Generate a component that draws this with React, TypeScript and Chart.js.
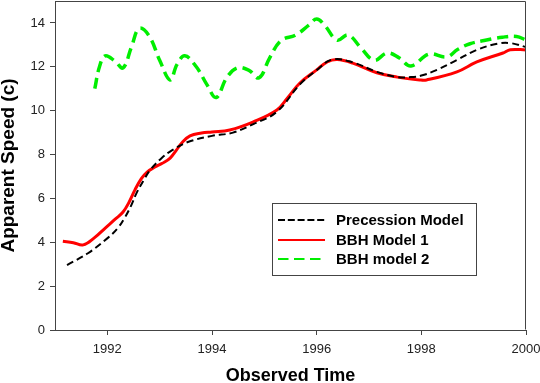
import React, { useEffect, useRef } from "react";
import { Chart, registerables } from "chart.js";

Chart.register(...registerables);

// ---- Data ----
const precessionYears = [1991.23, 1991.63, 1992.01, 1992.2, 1992.34, 1992.45, 1992.56, 1992.7, 1992.82, 1993.04, 1993.24, 1993.54, 1994.0, 1994.4, 1994.8, 1995.24, 1995.68, 1996.0, 1996.3, 1996.69, 1997.15, 1997.54, 1997.8, 1998.0, 1998.3, 1998.68, 1999.06, 1999.45, 1999.7, 2000.0];
const precessionSpeed = [2.96, 3.5, 4.2, 4.65, 5.15, 5.65, 6.25, 6.85, 7.3, 7.84, 8.2, 8.57, 8.85, 9.0, 9.4, 9.95, 11.2, 11.85, 12.33, 12.2, 11.77, 11.53, 11.53, 11.6, 11.86, 12.31, 12.77, 13.05, 13.08, 12.9];

const bbh1Years = [1991.15, 1991.35, 1991.54, 1991.75, 1991.96, 1992.15, 1992.3, 1992.42, 1992.53, 1992.65, 1992.76, 1992.91, 1993.05, 1993.2, 1993.32, 1993.43, 1993.58, 1993.8, 1994.0, 1994.34, 1994.78, 1995.24, 1995.45, 1995.68, 1996.0, 1996.2, 1996.39, 1996.69, 1997.15, 1997.54, 1997.97, 1998.1, 1998.68, 1999.06, 1999.56, 1999.7, 2000.0];
const bbh1Speed = [4.05, 3.98, 3.88, 4.2, 4.65, 5.05, 5.38, 5.85, 6.4, 6.9, 7.2, 7.43, 7.6, 7.84, 8.2, 8.55, 8.85, 8.98, 9.03, 9.12, 9.48, 10.03, 10.6, 11.26, 11.86, 12.22, 12.33, 12.17, 11.73, 11.53, 11.4, 11.4, 11.77, 12.22, 12.63, 12.78, 12.77];

const bbh2Years = [1991.76, 1991.85, 1991.96, 1992.15, 1992.3, 1992.46, 1992.61, 1992.8, 1993.0, 1993.2, 1993.33, 1993.48, 1993.7, 1993.9, 1994.08, 1994.28, 1994.48, 1994.7, 1994.9, 1995.1, 1995.32, 1995.6, 1995.85, 1996.0, 1996.15, 1996.39, 1996.6, 1996.85, 1997.1, 1997.35, 1997.58, 1997.8, 1998.15, 1998.48, 1998.7, 1998.93, 1999.2, 1999.55, 1999.82, 2000.0];
const bbh2Speed = [11.0, 12.0, 12.5, 12.25, 11.95, 12.9, 13.75, 13.4, 12.3, 11.4, 12.1, 12.5, 12.0, 11.2, 10.6, 11.5, 11.95, 11.85, 11.5, 12.4, 13.2, 13.45, 13.9, 14.18, 13.9, 13.22, 13.45, 12.85, 12.3, 12.63, 12.4, 12.04, 12.58, 12.45, 12.8, 13.05, 13.2, 13.35, 13.38, 13.22];

const seriesLabels = ["Precession Model", "BBH Model 1", "BBH model 2"];
const xTickValues = [1992, 1994, 1996, 1998, 2000];
const yTickValues = [0, 2, 4, 6, 8, 10, 12, 14];

const toPoints = (xs: number[], ys: number[]) => xs.map((x, i) => ({ x, y: ys[i] }));

const FONT = "'Liberation Sans', Arial, Helvetica, sans-serif";

const framePlugin = {
  id: "frame",
  afterDraw(chart: any) {
    const { ctx, chartArea } = chart;
    const l = Math.round(chartArea.left) + 0.5;
    const t = Math.round(chartArea.top) + 0.5;
    const r = Math.round(chartArea.right) - 0.5;
    const b = Math.round(chartArea.bottom) - 0.5;
    ctx.save();
    ctx.strokeStyle = "#444";
    ctx.lineWidth = 1;
    ctx.beginPath();
    ctx.moveTo(l, t);
    ctx.lineTo(r, t);
    ctx.lineTo(r, b);
    ctx.stroke();
    ctx.restore();
  },
};

const legendDashes = [[7, 2.8], [], [10.5, 5.5]];

const boxLegendPlugin = {
  id: "boxLegend",
  afterDraw(chart: any) {
    const { ctx } = chart;
    const bx = 272.5, by = 203.5, bw = 204, bh = 72;
    ctx.save();
    ctx.fillStyle = "#fff";
    ctx.fillRect(bx, by, bw, bh);
    ctx.strokeStyle = "#444";
    ctx.lineWidth = 1;
    ctx.strokeRect(bx, by, bw, bh);
    const rows = [220, 240, 259];
    const sampleEnds = [325, 325, 321];
    chart.data.datasets.forEach((ds: any, i: number) => {
      const y = rows[i];
      ctx.strokeStyle = ds.borderColor;
      ctx.lineWidth = 2;
      ctx.setLineDash(legendDashes[i]);
      ctx.beginPath();
      ctx.moveTo(278, y);
      ctx.lineTo(sampleEnds[i], y);
      ctx.stroke();
      ctx.setLineDash([]);
      ctx.fillStyle = "#000";
      ctx.font = `bold 15px ${FONT}`;
      ctx.textBaseline = "middle";
      ctx.textAlign = "left";
      ctx.fillText(ds.label, 336, y + 0.5);
    });
    ctx.restore();
  },
};

export default function App() {
  const canvasRef = useRef<HTMLCanvasElement | null>(null);

  useEffect(() => {
    if (!canvasRef.current) return;
    const chart = new Chart(canvasRef.current, {
      type: "line",
      data: {
        datasets: [
          {
            label: seriesLabels[0],
            data: toPoints(precessionYears, precessionSpeed),
            borderColor: "#000000",
            borderWidth: 2,
            borderDash: [7, 4],
            pointRadius: 0,
            tension: 0.4,
            fill: false,
          },
          {
            label: seriesLabels[1],
            data: toPoints(bbh1Years, bbh1Speed),
            borderColor: "#ff0000",
            borderWidth: 3,
            pointRadius: 0,
            tension: 0.4,
            fill: false,
          },
          {
            label: seriesLabels[2],
            data: toPoints(bbh2Years, bbh2Speed),
            borderColor: "#00ee00",
            borderWidth: 3.5,
            borderDash: [11, 6],
            pointRadius: 0,
            tension: 0.4,
            fill: false,
          },
        ],
      },
      options: {
        responsive: false,
        animation: false,
        layout: { padding: { left: 0, right: 14, top: 1, bottom: 0 } },
        plugins: {
          legend: { display: false },
          tooltip: { enabled: false },
        },
        scales: {
          x: {
            type: "linear",
            min: 1991,
            max: 2000,
            afterBuildTicks: (s: any) => {
              s.ticks = xTickValues.map((v) => ({ value: v }));
            },
            afterFit: (s: any) => {
              s.height = 53;
              s.paddingLeft = 0;
              s.paddingRight = 0;
            },
            ticks: {
              callback: (v: any) => String(v),
              color: "#222",
              font: { family: FONT, size: 13 },
              padding: 7,
              maxRotation: 0,
            },
            grid: {
              display: true,
              drawOnChartArea: false,
              drawTicks: true,
              tickLength: 5,
              color: "#444",
            },
            border: { display: true, color: "#444", width: 1 },
            title: {
              display: true,
              text: "Observed Time",
              color: "#000",
              font: { family: FONT, size: 18, weight: "bold", lineHeight: 0.82 },
              padding: { top: 0, bottom: 0 },
            },
          },
          y: {
            type: "linear",
            min: 0,
            max: 15,
            afterBuildTicks: (s: any) => {
              s.ticks = yTickValues.map((v) => ({ value: v }));
            },
            afterFit: (s: any) => {
              s.width = 55;
              s.paddingTop = 0;
              s.paddingBottom = 0;
            },
            ticks: {
              callback: (v: any) => String(v),
              color: "#222",
              font: { family: FONT, size: 13 },
              padding: 5,
            },
            grid: {
              display: true,
              drawOnChartArea: false,
              drawTicks: true,
              tickLength: 5,
              color: "#444",
            },
            border: { display: true, color: "#444", width: 1 },
            title: {
              display: true,
              text: "Apparent Speed (c)",
              color: "#000",
              font: { family: FONT, size: 19, weight: "bold", lineHeight: 0.82 },
              padding: { top: 1, bottom: 0 },
            },
          },
        },
      },
      plugins: [framePlugin, boxLegendPlugin],
    });
    return () => chart.destroy();
  }, []);

  return (
    <div style={{ position: "fixed", left: 0, top: 0, width: 540, height: 383, background: "#fff" }}>
      <canvas ref={canvasRef} width={540} height={383} style={{ display: "block" }} />
    </div>
  );
}
